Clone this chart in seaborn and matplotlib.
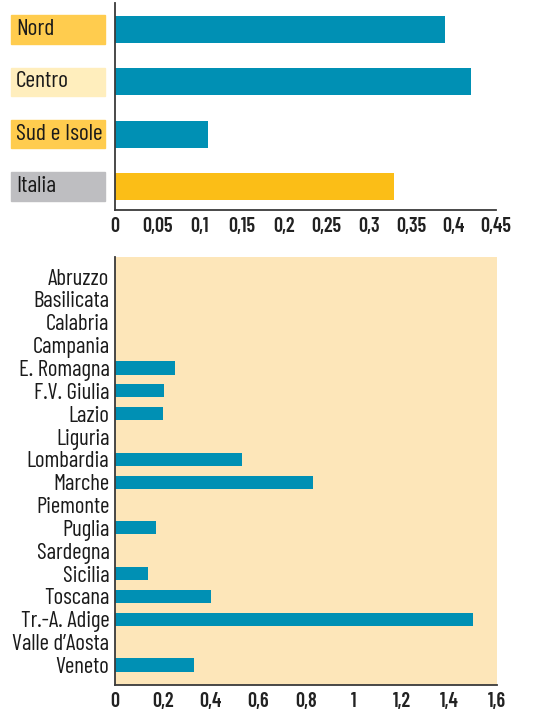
import matplotlib
matplotlib.use("Agg")
import matplotlib.pyplot as plt
import matplotlib.transforms as mtransforms
from matplotlib.patches import Rectangle
from matplotlib.ticker import FuncFormatter, MultipleLocator
import pandas as pd
import seaborn as sns

# top panel: macro areas
areas = ["Nord", "Centro", "Sud e Isole", "Italia"]
area_values = [0.39, 0.42, 0.11, 0.33]
area_bar_colors = ["#0090b4", "#0090b4", "#0090b4", "#fbbe17"]
area_box_colors = ["#ffcc4e", "#ffeebd", "#ffcc4e", "#bebec1"]

# bottom panel: regions
regions = [
    "Abruzzo", "Basilicata", "Calabria", "Campania", "E. Romagna",
    "F.V. Giulia", "Lazio", "Liguria", "Lombardia", "Marche", "Piemonte",
    "Puglia", "Sardegna", "Sicilia", "Toscana", "Tr.-A. Adige",
    "Valle d\u2019Aosta", "Veneto",
]
region_values = [0, 0, 0, 0, 0.25, 0.205, 0.2, 0, 0.53, 0.83, 0,
                 0.17, 0, 0.14, 0.40, 1.50, 0, 0.33]

sns.set_style("white")
plt.rcParams["font.family"] = ["Barlow Condensed", "DejaVu Sans"]

TEAL = "#0090b4"
SPINE = "#3a3a3a"


def comma(value, _pos):
    return f"{value:g}".replace(".", ",")


def style_x_axis(axis):
    for side in ("top", "right"):
        axis.spines[side].set_visible(False)
    for side in ("left", "bottom"):
        axis.spines[side].set_color(SPINE)
        axis.spines[side].set_linewidth(1.3)
    axis.xaxis.set_major_formatter(FuncFormatter(comma))
    axis.tick_params(axis="x", direction="in", length=7, width=1.2,
                     color=SPINE, pad=5, labelsize=14.5, labelcolor="#222222")
    for label in axis.get_xticklabels():
        label.set_fontweight("semibold")
    axis.set_xlabel("")
    axis.set_ylabel("")


fig = plt.figure(figsize=(5.46, 7.10), dpi=100)
W, H = 546, 710

# ---- top chart
ax_top = fig.add_axes([115 / W, (H - 210) / H, 381 / W, 207 / H])
top_df = pd.DataFrame({"area": areas, "value": area_values})
sns.barplot(data=top_df, x="value", y="area", hue="area", order=areas,
            hue_order=areas, palette=area_bar_colors, width=0.52,
            legend=False, saturation=1, linewidth=0, ax=ax_top)
ax_top.set_xlim(0, 0.45)
ax_top.set_ylim(3.45, -0.507)
ax_top.xaxis.set_major_locator(MultipleLocator(0.05))
ax_top.set_yticks([])
style_x_axis(ax_top)

blend = mtransforms.blended_transform_factory(fig.transFigure, ax_top.transData)
for i, (name, box) in enumerate(zip(areas, area_box_colors)):
    ax_top.add_patch(Rectangle((11 / W, i - 0.27), 94 / W, 0.54,
                               transform=blend, color=box, clip_on=False))
    ax_top.text(16 / W, i, name, transform=blend, va="center", ha="left",
                fontsize=17, color="#1a1a1a", clip_on=False)

# ---- bottom chart
ax_bot = fig.add_axes([115 / W, (H - 685) / H, 382 / W, 428 / H])
ax_bot.set_facecolor("#fde6b9")
bot_df = pd.DataFrame({"region": regions, "value": region_values})
sns.barplot(data=bot_df, x="value", y="region", order=regions,
            color=TEAL, width=0.58, saturation=1, linewidth=0, ax=ax_bot)
ax_bot.set_xlim(0, 1.6)
ax_bot.set_ylim(17.88, -0.86)
ax_bot.xaxis.set_major_locator(MultipleLocator(0.2))
style_x_axis(ax_bot)
ax_bot.tick_params(axis="y", length=0, pad=4, labelsize=16.5,
                   labelcolor="#1a1a1a")

fig.savefig("out.png", dpi=100, facecolor="white")
